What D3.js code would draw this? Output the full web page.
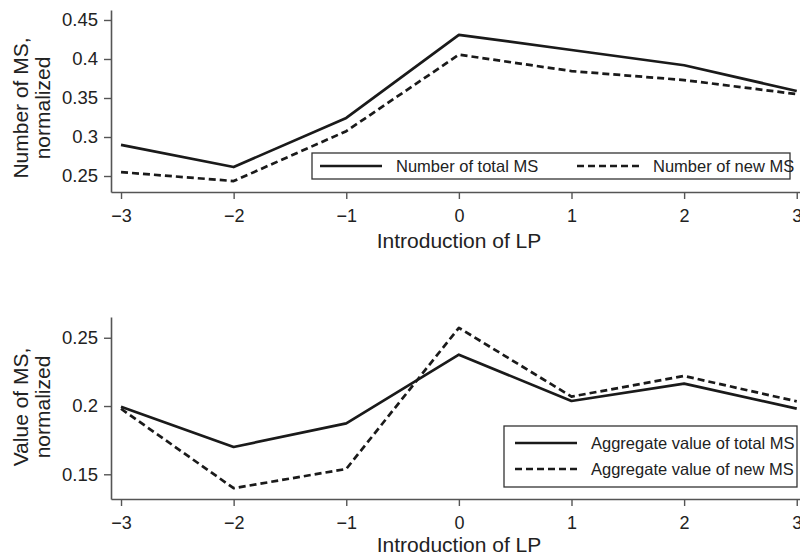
<!DOCTYPE html>
<html>
<head>
<meta charset="utf-8">
<script src="https://cdn.jsdelivr.net/npm/d3@7"></script>
<style>
  body { margin: 0; background: #fff; }
  svg { display: block; font-family: "Liberation Sans", Arial, sans-serif; }
</style>
</head>
<body>
<div id="chart"></div>
<script>
// Data
const years = [-3, -2, -1, 0, 1, 2, 3];
const numTotal = [0.290, 0.2615, 0.3245, 0.431, 0.4115, 0.392, 0.359];
const numNew = [0.255, 0.2435, 0.3075, 0.4055, 0.3845, 0.373, 0.355];
const valTotal = [0.1995, 0.170, 0.1873, 0.2376, 0.2037, 0.2164, 0.1981];
const valNew = [0.198, 0.1398, 0.1539, 0.2573, 0.2069, 0.222, 0.2034];
const topTicks = [0.25, 0.3, 0.35, 0.4, 0.45];
const botTicks = [0.15, 0.2, 0.25];
const xTicks = [-3, -2, -1, 0, 1, 2, 3];

const width = 800, height = 557;
const axisCol = "#555", lineCol = "#1a1a1a", textCol = "#222";

const svg = d3.select("#chart").append("svg")
  .attr("width", width)
  .attr("height", height);

const x = d3.scaleLinear()
  .domain([-3.089, 3.1])
  .range([111, 808]);

const fmtX = d => d < 0 ? "\u2212" + Math.abs(d) : String(d);

function drawPanel(opts) {
  const y = d3.scaleLinear().domain(opts.yDomain).range([opts.bottom, opts.top]);
  const g = svg.append("g");

  // axes
  const xa = g.append("g")
    .attr("transform", "translate(0," + opts.bottom + ")")
    .call(d3.axisBottom(x).tickValues(xTicks).tickFormat(fmtX).tickSize(7).tickPadding(10).tickSizeOuter(0));
  xa.select(".domain").attr("stroke", axisCol).attr("stroke-width", 1.6);
  xa.selectAll(".tick line").attr("stroke", axisCol).attr("stroke-width", 1.4);
  xa.selectAll(".tick text").attr("fill", textCol).style("font-size", "18px");

  const ya = g.append("g")
    .attr("transform", "translate(111,0)")
    .call(d3.axisLeft(y).tickValues(opts.yTicks).tickFormat(d => String(+d.toFixed(2))).tickSize(7).tickPadding(6).tickSizeOuter(0));
  ya.select(".domain").attr("stroke", axisCol).attr("stroke-width", 1.6);
  ya.selectAll(".tick line").attr("stroke", axisCol).attr("stroke-width", 1.4);
  ya.selectAll(".tick text").attr("fill", textCol).style("font-size", "18.5px");

  // axis titles
  g.append("text")
    .attr("x", 459).attr("y", opts.bottom + opts.xTitleGap)
    .attr("text-anchor", "middle")
    .attr("fill", textCol)
    .style("font-size", "21px")
    .text("Introduction of LP");

  opts.yTitle.forEach((t, i) => {
    g.append("text")
      .attr("transform", "translate(" + (28 + i * 22) + "," + opts.yTitleMid + ") rotate(-90)")
      .attr("text-anchor", "middle")
      .attr("fill", textCol)
      .style("font-size", "21px")
      .text(t);
  });

  // lines
  const line = d3.line().x((d, i) => x(years[i])).y(d => y(d));
  opts.series.forEach(s => {
    g.append("path")
      .datum(s.values)
      .attr("d", line)
      .attr("fill", "none")
      .attr("stroke", lineCol)
      .attr("stroke-width", 2.7)
      .attr("stroke-linejoin", "round")
      .attr("stroke-dasharray", s.dash ? "7,4" : null);
  });

  // legend
  const L = opts.legend;
  g.append("rect")
    .attr("x", L.x).attr("y", L.y).attr("width", L.w).attr("height", L.h)
    .attr("fill", "#fff").attr("stroke", "#333").attr("stroke-width", 1.3);
  opts.series.forEach((s, i) => {
    const it = L.items[i];
    g.append("line")
      .attr("x1", it.x).attr("x2", it.x + 62)
      .attr("y1", it.y).attr("y2", it.y)
      .attr("stroke", lineCol).attr("stroke-width", 2.7)
      .attr("stroke-dasharray", s.dash ? "7,4" : null);
    g.append("text")
      .attr("x", it.x + 76).attr("y", it.y)
      .attr("dy", "0.35em")
      .attr("fill", textCol)
      .style("font-size", "16.5px")
      .text(s.name);
  });
}

drawPanel({
  top: 10, bottom: 192,
  yDomain: [0.2295, 0.4628],
  yTicks: topTicks,
  yTitle: ["Number of MS,", "normalized"],
  yTitleMid: 108,
  xTitleGap: 56,
  series: [
    { name: "Number of total MS", values: numTotal, dash: false },
    { name: "Number of new MS", values: numNew, dash: true }
  ],
  legend: { x: 312, y: 153, w: 478, h: 26, items: [{ x: 320, y: 166 }, { x: 577, y: 166 }] }
});

drawPanel({
  top: 317, bottom: 499,
  yDomain: [0.1319, 0.2652],
  yTicks: botTicks,
  yTitle: ["Value of MS,", "normalized"],
  yTitleMid: 407,
  xTitleGap: 53,
  series: [
    { name: "Aggregate value of total MS", values: valTotal, dash: false },
    { name: "Aggregate value of new MS", values: valNew, dash: true }
  ],
  legend: { x: 504, y: 426, w: 293, h: 61, items: [{ x: 515, y: 443 }, { x: 515, y: 469 }] }
});
</script>
</body>
</html>
